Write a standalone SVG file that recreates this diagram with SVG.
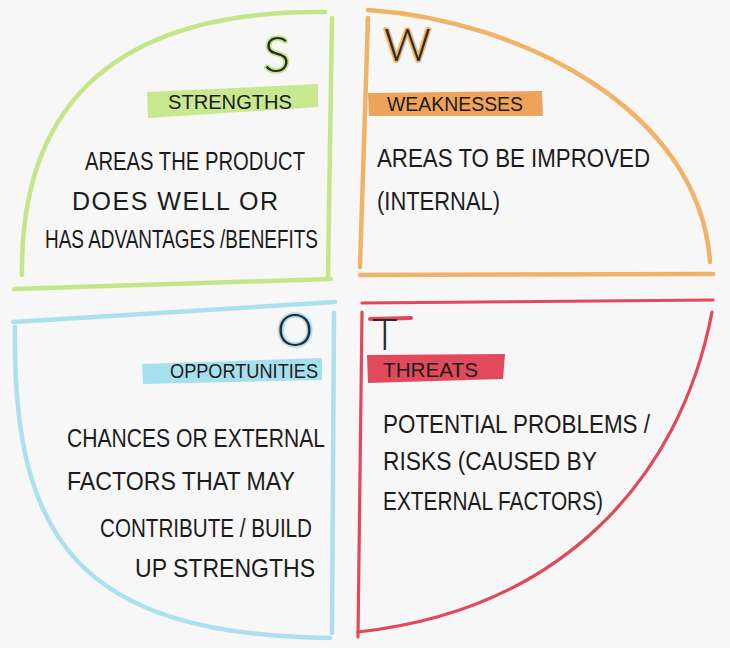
<svg xmlns="http://www.w3.org/2000/svg" width="730" height="648" viewBox="0 0 730 648">
<style>
.ln{fill:none;stroke-linecap:round;stroke-linejoin:round}
.g{stroke:#c4e689;stroke-width:4.5}
.o{stroke:#f2b366;stroke-width:4.5}
.b{stroke:#ade0ee;stroke-width:4.5}
.r{stroke:#e2485a;stroke-width:3.2}
.body{font-family:"Liberation Sans","DejaVu Sans",sans-serif;font-size:25px;fill:#1c1c1c}
.lab{font-family:"Liberation Sans","DejaVu Sans",sans-serif;font-size:20px;fill:#1c1c1c}
.big{font-family:"Lato","Open Sans","Liberation Sans",sans-serif;font-weight:300;fill:#2a2a2a;paint-order:stroke;stroke-width:3.5px;stroke-linejoin:round}
</style>
<rect width="730" height="648" fill="#f7f7f7"/>
<g id="strengths">
<path class="ln g" d="M22,275 C20,100 120,10 325,12"/>
<path class="ln g" d="M332,18 L328,276"/>
<path class="ln g" d="M14,289 L331,279"/>
<text class="big" x="277" y="72" font-size="50" text-anchor="middle" stroke="#c4e689">S</text>
<polygon points="147,92 318,84 318,107 148,118" fill="#c8e890"/>
<text class="lab" x="168" y="109" textLength="124" lengthAdjust="spacingAndGlyphs">STRENGTHS</text>
<text class="body" x="85" y="170" textLength="220" lengthAdjust="spacingAndGlyphs">AREAS THE PRODUCT</text>
<text class="body" x="72" y="210" textLength="206" lengthAdjust="spacing">DOES WELL OR</text>
<text class="body" x="45" y="248" textLength="273" lengthAdjust="spacingAndGlyphs">HAS ADVANTAGES /BENEFITS</text>
</g>
<g id="weaknesses">
<path class="ln o" d="M368,10 C520,20 700,110 710,262"/>
<path class="ln o" d="M368,18 L360,267"/>
<path class="ln o" d="M360,275 L713,274"/>
<text class="big" x="384" y="61" font-size="46" stroke="#f2b366">W</text>
<polygon points="368,93 542,91 543,116 369,116" fill="#eda35a"/>
<text class="lab" x="387" y="111" textLength="136" lengthAdjust="spacingAndGlyphs">WEAKNESSES</text>
<text class="body" x="377" y="167" textLength="273" lengthAdjust="spacingAndGlyphs">AREAS TO BE IMPROVED</text>
<text class="body" x="377" y="210" textLength="123" lengthAdjust="spacingAndGlyphs">(INTERNAL)</text>
</g>
<g id="opportunities">
<path class="ln b" d="M13,322 L335,302"/>
<path class="ln b" d="M334,313 L332,633"/>
<path class="ln b" d="M15,327 C12,540 80,635 330,638"/>
<text class="big" x="295" y="346" font-size="46" text-anchor="middle" stroke="#ade0ee">O</text>
<polygon points="142,364 322,358 322,380 143,384" fill="#a6dfee"/>
<text class="lab" x="170" y="378" textLength="148" lengthAdjust="spacingAndGlyphs">OPPORTUNITIES</text>
<text class="body" x="67" y="447" textLength="258" lengthAdjust="spacingAndGlyphs">CHANCES OR EXTERNAL</text>
<text class="body" x="67" y="490" textLength="228" lengthAdjust="spacingAndGlyphs">FACTORS THAT MAY</text>
<text class="body" x="100" y="537" textLength="212" lengthAdjust="spacingAndGlyphs">CONTRIBUTE / BUILD</text>
<text class="body" x="135" y="577" textLength="180" lengthAdjust="spacingAndGlyphs">UP STRENGTHS</text>
</g>
<g id="threats">
<path class="ln r" d="M362,303 L713,300"/>
<path class="ln r" d="M362,312 L358,637"/>
<path class="ln r" d="M712,312 C680,480 560,610 358,632"/>
<path class="ln" d="M370,319 L411,318" stroke="#e2485a" stroke-width="4"/>
<text class="big" x="372" y="350" font-size="44">T</text>
<polygon points="367,355 505,354 503,379 368,383" fill="#e14a5c"/>
<text class="lab" x="383" y="377" textLength="95" lengthAdjust="spacingAndGlyphs">THREATS</text>
<text class="body" x="383" y="433" textLength="267" lengthAdjust="spacingAndGlyphs">POTENTIAL PROBLEMS /</text>
<text class="body" x="383" y="470" textLength="214" lengthAdjust="spacingAndGlyphs">RISKS (CAUSED BY</text>
<text class="body" x="383" y="510" textLength="220" lengthAdjust="spacingAndGlyphs">EXTERNAL FACTORS)</text>
</g>
<g id="connectors"></g>
</svg>
